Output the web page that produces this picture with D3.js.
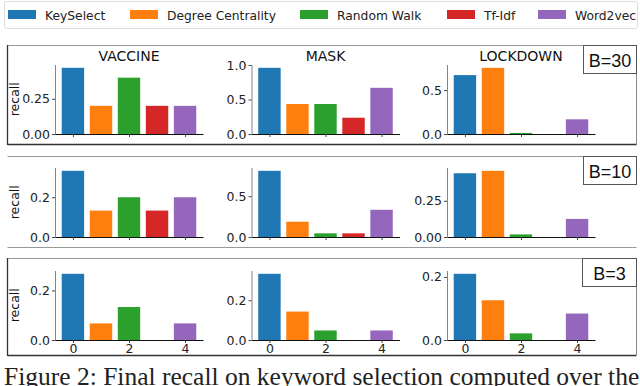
<!DOCTYPE html>
<html><head><meta charset="utf-8">
<script src="https://cdn.jsdelivr.net/npm/d3@7"></script>
<style>body{margin:0;background:#fff}svg{display:block}</style>
</head><body><svg id="c" width="640" height="386"></svg>
<script>
const categories = ["KeySelect","Degree Centrality","Random Walk","Tf-Idf","Word2vec"];
const colors = ["#1f77b4","#ff7f0e","#2ca02c","#d62728","#9467bd"];
const topics = ["VACCINE","MASK","LOCKDOWN"];
const budgets = ["B=30","B=10","B=3"];
// recall values per budget, per topic (order of categories)
const b30Vaccine  = [0.47, 0.20, 0.40, 0.20, 0.20];
const b30Mask     = [0.96, 0.435, 0.435, 0.236, 0.67];
const b30Lockdown = [0.67, 0.753, 0.012, 0, 0.167];
const b10Vaccine  = [0.333, 0.133, 0.20, 0.133, 0.20];
const b10Mask     = [0.81, 0.187, 0.045, 0.045, 0.333];
const b10Lockdown = [0.44, 0.457, 0.018, 0, 0.125];
const b3Vaccine   = [0.267, 0.067, 0.133, 0, 0.067];
const b3Mask      = [0.333, 0.143, 0.048, 0, 0.048];
const b3Lockdown  = [0.21, 0.126, 0.021, 0, 0.084];
// y tick labels per panel
const b30Ticks = [["0.00","0.25"],["0.0","0.5","1.0"],["0.0","0.5"]];
const b10Ticks = [["0.0","0.2"],["0.0","0.5"],["0.00","0.25"]];
const b3Ticks  = [["0.0","0.2"],["0.0","0.2"],["0.0","0.2"]];
const xTicks = [0, 2, 4];
const caption = "Figure 2: Final recall on keyword selection computed over the";

const rows = [
  {label: budgets[0], data: [b30Vaccine, b30Mask, b30Lockdown], ticks: b30Ticks},
  {label: budgets[1], data: [b10Vaccine, b10Mask, b10Lockdown], ticks: b10Ticks},
  {label: budgets[2], data: [b3Vaccine, b3Mask, b3Lockdown], ticks: b3Ticks}
];

const svg = d3.select("#c");
const font = "DejaVu Sans, sans-serif";

// legend
const lg = svg.append("g");
lg.append("rect").attr("x",4.5).attr("y",1.5).attr("width",633).attr("height",27)
  .attr("fill","#fff").attr("stroke","#ddd").attr("rx",2);
const legX = [8, 130, 300, 447, 538];
categories.forEach((c,i)=>{
  lg.append("rect").attr("x",legX[i]).attr("y",10).attr("width",28).attr("height",9).attr("fill",colors[i]);
  lg.append("text").attr("x",legX[i]+37).attr("y",19.5).text(c)
    .attr("font-family",font).attr("font-size",12.3).attr("fill","#222");
});

// row frames
const frames = [{top:45,bot:144,sides:true},{top:156,bot:247,sides:false},{top:258,bot:355,sides:true}];
const fx0 = 7.5, fx1 = 636.5;
frames.forEach(f=>{
  const g = svg.append("g");
  g.append("line").attr("x1",fx0).attr("x2",fx1).attr("y1",f.top+0.5).attr("y2",f.top+0.5).attr("stroke","#999");
  g.append("line").attr("x1",fx0).attr("x2",fx1).attr("y1",f.bot+0.5).attr("y2",f.bot+0.5).attr("stroke",f.sides?"#333":"#999").attr("stroke-width",f.sides?1.3:1);
  if(f.sides){
    g.append("line").attr("x1",fx0).attr("x2",fx0).attr("y1",f.top).attr("y2",f.bot+1).attr("stroke","#333").attr("stroke-width",1.3);
    g.append("line").attr("x1",fx1).attr("x2",fx1).attr("y1",f.top).attr("y2",f.bot+1).attr("stroke","#888");
  }
});

const axX = [55, 251.5, 447];
const base = [134, 237, 340];
const plotH = 69.5, plotW = 148;

rows.forEach((row, r)=>{
  row.data.forEach((vals, p)=>{
    const x = d3.scaleLinear().domain([-0.64, 4.64]).range([axX[p], axX[p]+plotW]);
    const ymax = d3.max(vals)*1.05;
    const y = d3.scaleLinear().domain([0, ymax]).range([base[r], base[r]-plotH]);
    const g = svg.append("g");
    g.selectAll("rect.bar").data(vals).join("rect").attr("class","bar")
      .attr("x",(d,i)=>x(i-0.4)).attr("width",(d,i)=>x(i+0.4)-x(i-0.4))
      .attr("y",d=>y(d)).attr("height",d=>y(0)-y(d))
      .attr("fill",(d,i)=>colors[i]);
    // y axis
    const tv = row.ticks[p].map(Number);
    const ya = d3.axisLeft(y).tickValues(tv).tickFormat((d,i)=>row.ticks[p][i]).tickSize(3).tickPadding(2).tickSizeOuter(0);
    const yg = g.append("g").attr("transform",`translate(${axX[p]},0)`).call(ya);
    yg.select(".domain").attr("stroke","#666").attr("stroke-width",0.8);
    yg.selectAll(".tick line").attr("stroke","#444");
    yg.selectAll("text").attr("font-family",font).attr("font-size",12.5).attr("fill","#222");
    // x axis
    const xa = d3.axisBottom(x).tickValues(xTicks).tickSize(3).tickPadding(1).tickSizeOuter(0)
      .tickFormat(r===2? d3.format("d") : ()=> "");
    const xg = g.append("g").attr("transform",`translate(0,${base[r]})`).call(xa);
    xg.select(".domain").attr("stroke","#111").attr("stroke-width",1.1);
    xg.selectAll(".tick line").attr("stroke","#444");
    xg.selectAll("text").attr("font-family",font).attr("font-size",12.5).attr("fill","#222");
    if(r===0){
      g.append("text").attr("x",axX[p]+plotW/2).attr("y",61).attr("text-anchor","middle")
        .attr("font-family",font).attr("font-size",14).attr("fill","#111").text(topics[p]);
    }
    if(p===0){
      g.append("text").attr("transform",`translate(19,${base[r]-plotH/2}) rotate(-90)`)
        .attr("text-anchor","middle").attr("font-family",font).attr("font-size",12.5).attr("fill","#111").text("recall");
    }
  });
  // budget box
  const bt = frames[r].top;
  const bw = r===2 ? 54 : 53;
  const bg = svg.append("g");
  bg.append("rect").attr("x",636.5-bw).attr("y",bt+0.5).attr("width",bw).attr("height",28)
    .attr("fill","#fff").attr("stroke","#555");
  bg.append("text").attr("x",636.5-bw/2).attr("y",bt+21.5).attr("text-anchor","middle")
    .attr("font-family","Liberation Sans, Arial, sans-serif").attr("font-size",18).attr("fill","#111").text(row.label);
});

// caption (cut at the bottom and right edge, as in the reference)
svg.append("text").attr("x",4).attr("y",384.5).attr("font-family","Liberation Serif, Times New Roman, serif")
  .attr("font-size",25.5).attr("fill","#222").text(caption);
</script></body></html>
